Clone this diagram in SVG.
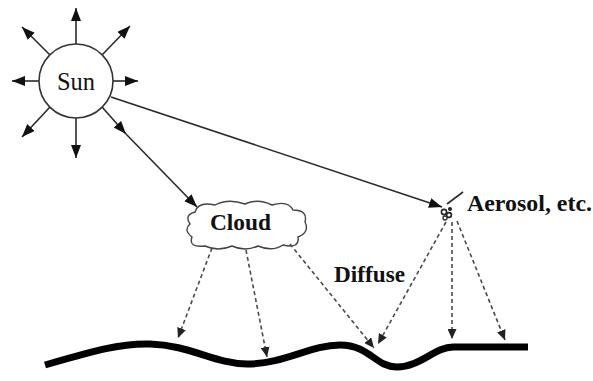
<svg xmlns="http://www.w3.org/2000/svg" width="593" height="381" viewBox="0 0 593 381">
  <style>
    .ray { stroke: #2a2a2a; stroke-width: 1.6; fill: none; }
    .diffuse { stroke: #4a4a4a; stroke-width: 1.6; fill: none; stroke-dasharray: 4 3; }
    .lbl { font-family: "Liberation Serif", "Times New Roman", serif; fill: #111; }
    .bold { font-weight: bold; font-size: 23px; }
  </style>
  <defs>
    <marker id="ah" markerUnits="userSpaceOnUse" markerWidth="14" markerHeight="11" refX="13" refY="5" orient="auto">
      <path d="M0,0 L13,5 L0,10 z" fill="#111"/>
    </marker>
    <marker id="ahs" markerUnits="userSpaceOnUse" markerWidth="11" markerHeight="9" refX="10" refY="4.5" orient="auto">
      <path d="M0,0 L10,4.5 L0,9 z" fill="#222"/>
    </marker>
  </defs>
  <rect width="593" height="381" fill="#fff"/>

  <!-- Sun with its radial rays -->
  <g id="sun">
    <line class="ray" x1="76" y1="44" x2="76" y2="8" marker-end="url(#ah)"/>
    <line class="ray" x1="50" y1="55" x2="22" y2="27" marker-end="url(#ah)"/>
    <line class="ray" x1="102" y1="55" x2="130" y2="26" marker-end="url(#ah)"/>
    <line class="ray" x1="39" y1="81" x2="12" y2="81" marker-end="url(#ah)"/>
    <line class="ray" x1="113" y1="81" x2="138" y2="81" marker-end="url(#ah)"/>
    <line class="ray" x1="50" y1="107" x2="22" y2="137" marker-end="url(#ah)"/>
    <line class="ray" x1="76" y1="118" x2="76" y2="158" marker-end="url(#ah)"/>
    <line class="ray" x1="102" y1="107" x2="126" y2="134" marker-end="url(#ah)"/>
    <circle cx="76" cy="81" r="37" fill="#fff" stroke="#333" stroke-width="1.6"/>
    <text class="lbl" x="57" y="90" font-size="25" textLength="38" lengthAdjust="spacingAndGlyphs">Sun</text>
  </g>

  <!-- Cloud -->
  <g id="cloud">
    <path d="M195,212 Q198,201 215,205 Q228,198 245,204 Q258,198 272,205 Q288,200 293,210 Q308,210 305,222 Q310,232 298,237 Q300,249 283,245 Q272,252 258,246 Q245,252 232,246 Q218,252 205,246 Q188,248 192,237 Q183,230 190,224 Q184,215 195,212 Z" fill="#fff" stroke="#444" stroke-width="1.4"/>
    <text class="lbl bold" x="210" y="230" textLength="61" lengthAdjust="spacingAndGlyphs">Cloud</text>
  </g>

  <!-- Aerosol particles -->
  <g id="aerosol">
    <circle cx="444" cy="212" r="2.6" fill="none" stroke="#222" stroke-width="1.6"/>
    <circle cx="449" cy="215" r="2.4" fill="none" stroke="#222" stroke-width="1.6"/>
    <circle cx="445" cy="218" r="2" fill="none" stroke="#333" stroke-width="1.4"/>
    <circle cx="450" cy="209" r="2" fill="#222"/>
    <line class="ray" x1="447" y1="204" x2="463" y2="192"/>
    <text class="lbl bold" x="467" y="211" textLength="125" lengthAdjust="spacingAndGlyphs">Aerosol, etc.</text>
  </g>

  <!-- Ground surface -->
  <g id="ground">
    <path d="M45,365 C90,352 120,343 150,344 C190,345 215,364 247,364 C285,364 310,345 340,345 C370,345 375,367 397,367 C420,367 435,347 453,347 L528,347" fill="none" stroke="#000" stroke-width="7"/>
  </g>

  <g id="diffuse-label">
    <text class="lbl bold" x="334" y="282" textLength="71" lengthAdjust="spacingAndGlyphs">Diffuse</text>
  </g>

  <!-- Direct and diffuse radiation paths -->
  <g id="connectors">
    <line class="ray" x1="126" y1="134" x2="197" y2="207" marker-end="url(#ah)"/>
    <line class="ray" x1="111" y1="97" x2="442" y2="207" marker-end="url(#ah)"/>

    <line class="diffuse" x1="212" y1="248" x2="178" y2="338" marker-end="url(#ahs)"/>
    <line class="diffuse" x1="246" y1="250" x2="267" y2="357" marker-end="url(#ahs)"/>
    <line class="diffuse" x1="290" y1="244" x2="374" y2="348" marker-end="url(#ahs)"/>

    <line class="diffuse" x1="446" y1="222" x2="378" y2="344" marker-end="url(#ahs)"/>
    <line class="diffuse" x1="452" y1="222" x2="452" y2="339" marker-end="url(#ahs)"/>
    <line class="diffuse" x1="457" y1="221" x2="505" y2="340" marker-end="url(#ahs)"/>
  </g>
</svg>
